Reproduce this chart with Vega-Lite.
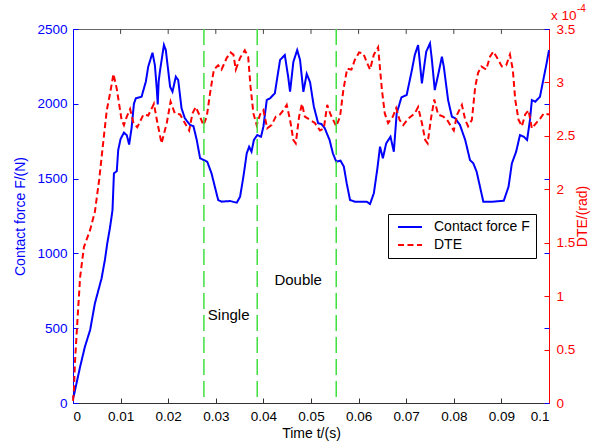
{
  "$schema": "https://vega.github.io/schema/vega-lite/v6.json",
  "width": 476,
  "height": 374,
  "autosize": "none",
  "padding": {"left": 73, "top": 29, "right": 46, "bottom": 45},
  "background": "white",
  "config": {
    "view": {"stroke": "#666666", "strokeWidth": 1},
    "font": "Liberation Sans",
    "axis": {"grid": false, "labelFontSize": 13.5, "titleFontSize": 14, "titleFontWeight": "normal", "tickSize": -5, "labelPadding": 11, "domainWidth": 1, "tickWidth": 1}
  },
  "datasets": {
    "force": [
      {"t":0,"F":30},{"t":0.0002,"F":53},{"t":0.0015,"F":243},{"t":0.0025,"F":376},{"t":0.0036,"F":488},{"t":0.0046,"F":666},{"t":0.006,"F":833},{"t":0.0067,"F":956},{"t":0.0072,"F":1067},{"t":0.0078,"F":1178},{"t":0.0083,"F":1290},{"t":0.0086,"F":1535},{"t":0.0092,"F":1550},{"t":0.0095,"F":1691},{"t":0.01,"F":1765},{"t":0.0107,"F":1807},{"t":0.0113,"F":1790},{"t":0.0118,"F":1728},{"t":0.0123,"F":1836},{"t":0.0128,"F":2000},{"t":0.0132,"F":2037},{"t":0.0144,"F":2047},{"t":0.0153,"F":2148},{"t":0.0158,"F":2248},{"t":0.0167,"F":2341},{"t":0.0172,"F":2259},{"t":0.0176,"F":2100},{"t":0.0178,"F":1995},{"t":0.018,"F":2150},{"t":0.0183,"F":2226},{"t":0.0191,"F":2393},{"t":0.0195,"F":2359},{"t":0.0204,"F":2114},{"t":0.0209,"F":2081},{"t":0.0216,"F":2181},{"t":0.0221,"F":2159},{"t":0.0228,"F":1970},{"t":0.0235,"F":1903},{"t":0.0246,"F":1858},{"t":0.0253,"F":1851},{"t":0.026,"F":1758},{"t":0.0267,"F":1636},{"t":0.0275,"F":1624},{"t":0.0282,"F":1613},{"t":0.0291,"F":1535},{"t":0.0298,"F":1446},{"t":0.0305,"F":1357},{"t":0.0312,"F":1346},{"t":0.033,"F":1350},{"t":0.0344,"F":1339},{"t":0.0351,"F":1379},{"t":0.0358,"F":1513},{"t":0.0365,"F":1669},{"t":0.037,"F":1713},{"t":0.0375,"F":1680},{"t":0.038,"F":1758},{"t":0.0387,"F":1791},{"t":0.0395,"F":1780},{"t":0.04,"F":1847},{"t":0.0407,"F":2025},{"t":0.0414,"F":2037},{"t":0.0424,"F":2070},{"t":0.0435,"F":2293},{"t":0.0445,"F":2326},{"t":0.0452,"F":2181},{"t":0.0456,"F":2081},{"t":0.0463,"F":2281},{"t":0.0471,"F":2359},{"t":0.0477,"F":2293},{"t":0.0484,"F":2080},{"t":0.0491,"F":2200},{"t":0.0498,"F":2145},{"t":0.0506,"F":1981},{"t":0.0515,"F":1870},{"t":0.0522,"F":1865},{"t":0.0529,"F":1836},{"t":0.0539,"F":1758},{"t":0.0546,"F":1669},{"t":0.0553,"F":1613},{"t":0.0562,"F":1620},{"t":0.0569,"F":1580},{"t":0.0575,"F":1469},{"t":0.0582,"F":1357},{"t":0.0592,"F":1346},{"t":0.0617,"F":1346},{"t":0.0624,"F":1330},{"t":0.0632,"F":1402},{"t":0.0639,"F":1557},{"t":0.0645,"F":1713},{"t":0.0651,"F":1636},{"t":0.0658,"F":1736},{"t":0.0667,"F":1780},{"t":0.0674,"F":1680},{"t":0.068,"F":1936},{"t":0.069,"F":2043},{"t":0.0701,"F":2059},{"t":0.0712,"F":2226},{"t":0.0718,"F":2326},{"t":0.0725,"F":2393},{"t":0.0733,"F":2137},{"t":0.0742,"F":2348},{"t":0.075,"F":2404},{"t":0.0754,"F":2293},{"t":0.076,"F":2092},{"t":0.0767,"F":2192},{"t":0.0775,"F":2315},{"t":0.0779,"F":2248},{"t":0.0788,"F":2025},{"t":0.0796,"F":1914},{"t":0.0803,"F":1903},{"t":0.0813,"F":1858},{"t":0.0824,"F":1758},{"t":0.0834,"F":1624},{"t":0.0841,"F":1602},{"t":0.0848,"F":1546},{"t":0.0855,"F":1446},{"t":0.0862,"F":1346},{"t":0.0883,"F":1346},{"t":0.0905,"F":1352},{"t":0.0915,"F":1446},{"t":0.0922,"F":1602},{"t":0.0931,"F":1680},{"t":0.0939,"F":1791},{"t":0.0947,"F":1780},{"t":0.0954,"F":1758},{"t":0.096,"F":1892},{"t":0.0964,"F":2025},{"t":0.0971,"F":2014},{"t":0.0981,"F":2047},{"t":0.0988,"F":2159},{"t":0.0995,"F":2271},{"t":0.1,"F":2359}
    ],
    "dte": [
      {"t":0,"D":0.02},{"t":0.0002,"D":0.12},{"t":0.0004,"D":0.37},{"t":0.0009,"D":0.75},{"t":0.0015,"D":1.18},{"t":0.0023,"D":1.46},{"t":0.0036,"D":1.62},{"t":0.0046,"D":1.79},{"t":0.0055,"D":2.09},{"t":0.0064,"D":2.46},{"t":0.0071,"D":2.74},{"t":0.0078,"D":2.9},{"t":0.0085,"D":3.08},{"t":0.0092,"D":2.94},{"t":0.0102,"D":2.65},{"t":0.0107,"D":2.6},{"t":0.0113,"D":2.68},{"t":0.012,"D":2.75},{"t":0.0127,"D":2.62},{"t":0.0135,"D":2.58},{"t":0.0148,"D":2.7},{"t":0.0158,"D":2.69},{"t":0.017,"D":2.8},{"t":0.0177,"D":2.63},{"t":0.0186,"D":2.43},{"t":0.0197,"D":2.62},{"t":0.0205,"D":2.82},{"t":0.0214,"D":2.71},{"t":0.0225,"D":2.7},{"t":0.0235,"D":2.62},{"t":0.0244,"D":2.55},{"t":0.0251,"D":2.71},{"t":0.0258,"D":2.77},{"t":0.0265,"D":2.7},{"t":0.0274,"D":2.6},{"t":0.0281,"D":2.68},{"t":0.0288,"D":2.9},{"t":0.0296,"D":3.12},{"t":0.0305,"D":3.16},{"t":0.0312,"D":3.12},{"t":0.0323,"D":3.23},{"t":0.0331,"D":3.28},{"t":0.0337,"D":3.26},{"t":0.0342,"D":3.12},{"t":0.0351,"D":3.23},{"t":0.0361,"D":3.3},{"t":0.0368,"D":3.24},{"t":0.0373,"D":2.96},{"t":0.0379,"D":2.71},{"t":0.0386,"D":2.6},{"t":0.0393,"D":2.7},{"t":0.04,"D":2.74},{"t":0.0408,"D":2.57},{"t":0.0417,"D":2.6},{"t":0.0426,"D":2.68},{"t":0.0435,"D":2.7},{"t":0.0442,"D":2.74},{"t":0.0449,"D":2.79},{"t":0.0456,"D":2.65},{"t":0.0463,"D":2.46},{"t":0.0468,"D":2.43},{"t":0.0475,"D":2.68},{"t":0.0481,"D":2.8},{"t":0.0487,"D":2.68},{"t":0.0498,"D":2.65},{"t":0.0508,"D":2.62},{"t":0.0519,"D":2.55},{"t":0.0527,"D":2.57},{"t":0.0534,"D":2.79},{"t":0.0541,"D":2.7},{"t":0.0553,"D":2.59},{"t":0.0561,"D":2.68},{"t":0.0568,"D":2.93},{"t":0.0576,"D":3.13},{"t":0.0585,"D":3.12},{"t":0.0592,"D":3.21},{"t":0.0601,"D":3.28},{"t":0.061,"D":3.27},{"t":0.0617,"D":3.19},{"t":0.0624,"D":3.12},{"t":0.0632,"D":3.26},{"t":0.0641,"D":3.33},{"t":0.0649,"D":2.93},{"t":0.0655,"D":2.71},{"t":0.0662,"D":2.62},{"t":0.0672,"D":2.68},{"t":0.0679,"D":2.76},{"t":0.0686,"D":2.65},{"t":0.0694,"D":2.6},{"t":0.0704,"D":2.66},{"t":0.0718,"D":2.71},{"t":0.0725,"D":2.77},{"t":0.0733,"D":2.62},{"t":0.074,"D":2.46},{"t":0.0745,"D":2.43},{"t":0.0752,"D":2.66},{"t":0.0759,"D":2.84},{"t":0.0767,"D":2.7},{"t":0.0778,"D":2.68},{"t":0.0786,"D":2.65},{"t":0.0794,"D":2.59},{"t":0.08,"D":2.55},{"t":0.0807,"D":2.7},{"t":0.0817,"D":2.79},{"t":0.0824,"D":2.65},{"t":0.083,"D":2.59},{"t":0.0838,"D":2.65},{"t":0.0845,"D":2.96},{"t":0.0851,"D":3.09},{"t":0.0858,"D":3.15},{"t":0.0868,"D":3.12},{"t":0.0876,"D":3.24},{"t":0.0883,"D":3.29},{"t":0.0891,"D":3.23},{"t":0.0901,"D":3.15},{"t":0.091,"D":3.16},{"t":0.0918,"D":3.26},{"t":0.0924,"D":3.12},{"t":0.0929,"D":2.84},{"t":0.0936,"D":2.65},{"t":0.0943,"D":2.59},{"t":0.095,"D":2.7},{"t":0.0957,"D":2.74},{"t":0.0964,"D":2.57},{"t":0.0973,"D":2.62},{"t":0.0981,"D":2.66},{"t":0.0989,"D":2.71},{"t":0.1,"D":2.7}
    ],
    "phases": [{"t":0.0275},{"t":0.0387},{"t":0.0553}],
    "xticks": [{"t":0.01},{"t":0.02},{"t":0.03},{"t":0.04},{"t":0.05},{"t":0.06},{"t":0.07},{"t":0.08},{"t":0.09}],
    "labels": [{"t":0.0327,"F":588,"label":"Single"},{"t":0.0473,"F":822,"label":"Double"}]
  },
  "layer": [
    {
      "data": {"name": "force"},
      "mark": {"type": "line", "strokeWidth": 2},
      "encoding": {
        "x": {"field": "t", "type": "quantitative", "scale": {"domain": [0, 0.1], "nice": false},
          "axis": {"orient": "bottom", "values": [0,0.01,0.02,0.03,0.04,0.05,0.06,0.07,0.08,0.09,0.1], "format": ".2~f", "title": "Time t/(s)", "domainColor": "#333333", "tickColor": "#333333", "labelColor": "#000000", "titleColor": "#000000", "titlePadding": 4}},
        "y": {"field": "F", "type": "quantitative", "scale": {"domain": [0, 2500], "nice": false},
          "axis": {"orient": "left", "values": [0,500,1000,1500,2000,2500], "format": "d", "title": "Contact force F/(N)", "domainColor": "#0000FF", "tickColor": "#0000FF", "labelColor": "#0000FF", "titleColor": "#0000FF", "titlePadding": 9}},
        "color": {"datum": "Contact force F", "type": "nominal",
          "scale": {"domain": ["Contact force F", "DTE"], "range": ["#0000FF", "#FF0000"]},
          "legend": {"title": null, "orient": "none", "legendX": 315, "legendY": 185, "strokeColor": "#000000", "fillColor": "#FFFFFF", "padding": 6, "symbolType": "M-0.6,0H4.2", "symbolSize": 100, "symbolStrokeWidth": 2, "labelFontSize": 14, "labelColor": "#000000", "labelOffset": 26, "rowPadding": 4}},
        "strokeDash": {"datum": "Contact force F", "type": "nominal",
          "scale": {"domain": ["Contact force F", "DTE"], "range": [[1, 0], [6, 3.5]]}}
      }
    },
    {
      "data": {"name": "dte"},
      "mark": {"type": "line", "strokeWidth": 2},
      "encoding": {
        "x": {"field": "t", "type": "quantitative", "scale": {"domain": [0, 0.1], "nice": false}, "axis": null},
        "y": {"field": "D", "type": "quantitative", "scale": {"domain": [0, 3.5], "nice": false},
          "axis": {"orient": "right", "values": [0,0.5,1,1.5,2,2.5,3,3.5], "format": "~g", "title": "DTE/(rad)", "titleAngle": 270, "domainColor": "#FF0000", "tickColor": "#FF0000", "labelColor": "#FF0000", "titleColor": "#FF0000", "titlePadding": 15, "labelPadding": 12}},
        "color": {"datum": "DTE", "type": "nominal"},
        "strokeDash": {"datum": "DTE", "type": "nominal"}
      }
    },
    {
      "data": {"name": "phases"},
      "mark": {"type": "rule", "color": "#40E040", "strokeWidth": 1.5, "strokeDash": [16, 6]},
      "encoding": {
        "x": {"field": "t", "type": "quantitative", "scale": {"domain": [0, 0.1], "nice": false}, "axis": null}
      }
    },
    {
      "data": {"name": "xticks"},
      "mark": {"type": "rule", "color": "#444444", "strokeWidth": 1},
      "encoding": {
        "x": {"field": "t", "type": "quantitative", "scale": {"domain": [0, 0.1], "nice": false}, "axis": null},
        "y": {"datum": 2500, "type": "quantitative", "scale": {"domain": [0, 2500], "nice": false}, "axis": null},
        "y2": {"datum": 2467}
      }
    },
    {
      "data": {"name": "labels"},
      "mark": {"type": "text", "fontSize": 15, "color": "#000000", "baseline": "middle", "align": "center"},
      "encoding": {
        "x": {"field": "t", "type": "quantitative", "scale": {"domain": [0, 0.1], "nice": false}, "axis": null},
        "y": {"field": "F", "type": "quantitative", "scale": {"domain": [0, 2500], "nice": false},
          "axis": {"orient": "right", "values": [0,500,1000,1500,2000,2500], "labels": false, "domain": false, "title": null, "tickColor": "#0000FF"}},
        "text": {"field": "label"}
      }
    },
    {
      "data": {"values": [{}]},
      "mark": {"type": "text", "fontSize": 13.5, "color": "#FF0000", "align": "left", "baseline": "alphabetic", "dx": 2, "dy": -9},
      "encoding": {
        "x": {"datum": 0.1, "type": "quantitative", "scale": {"domain": [0, 0.1], "nice": false}, "axis": null},
        "y": {"datum": 2500, "type": "quantitative", "scale": {"domain": [0, 2500], "nice": false}, "axis": null},
        "text": {"value": "x 10"}
      }
    },
    {
      "data": {"values": [{}]},
      "mark": {"type": "text", "fontSize": 10, "color": "#FF0000", "align": "left", "baseline": "alphabetic", "dx": 28, "dy": -17},
      "encoding": {
        "x": {"datum": 0.1, "type": "quantitative", "scale": {"domain": [0, 0.1], "nice": false}, "axis": null},
        "y": {"datum": 2500, "type": "quantitative", "scale": {"domain": [0, 2500], "nice": false}, "axis": null},
        "text": {"value": "-4"}
      }
    }
  ],
  "resolve": {"scale": {"x": "independent", "y": "independent"}, "axis": {"x": "independent", "y": "independent"}}
}
